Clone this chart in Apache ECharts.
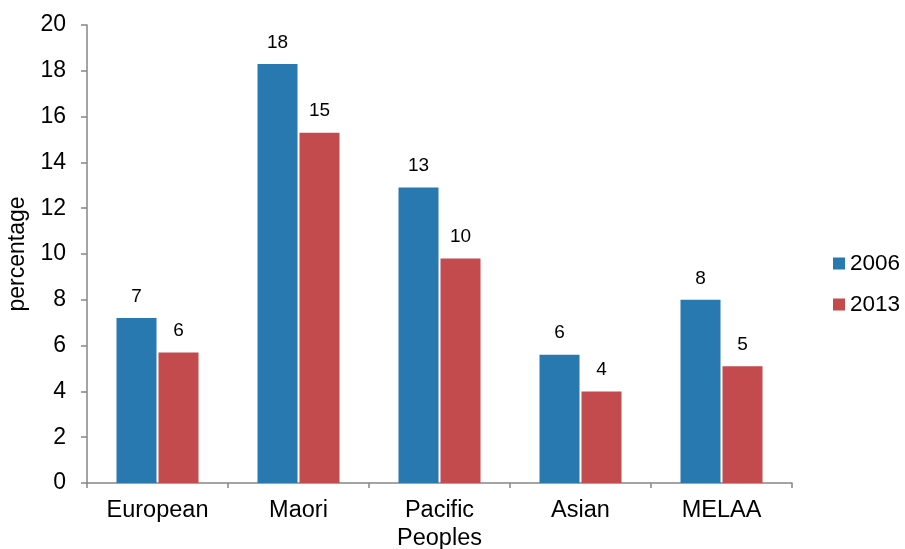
<!DOCTYPE html>
<html>
<head>
<meta charset="utf-8">
<script src="https://cdn.jsdelivr.net/npm/echarts@6/dist/echarts.min.js"></script>
<style>
  html, body { margin: 0; padding: 0; background: #fff; }
  #chart { width: 905px; height: 549px; }
</style>
</head>
<body>
<div id="chart"></div>
<script>
// Ethnic groups along the x axis
const categories = ['European', 'Maori', 'Pacific\nPeoples', 'Asian', 'MELAA'];
// Percentages per ethnic group
const values2006 = [7.2, 18.3, 12.9, 5.6, 8.0];
const values2013 = [5.7, 15.3, 9.8, 4.0, 5.1];
const seriesNames = ['2006', '2013'];

const FONT = '"Liberation Sans", Arial, sans-serif';
const AXIS_GREY = '#868686';

const chart = echarts.init(document.getElementById('chart'));

const barLabel = {
  show: true,
  position: 'top',
  distance: 12,
  color: '#000',
  fontFamily: FONT,
  fontSize: 19,
  formatter: p => Math.round(p.value)
};

chart.setOption({
  animation: false,
  backgroundColor: '#fff',
  textStyle: { fontFamily: FONT },
  grid: { left: 87, right: 113, top: 25, bottom: 66, containLabel: false, outerBoundsMode: 'none' },
  legend: {
    orient: 'vertical',
    left: 828,
    top: 247,
    itemWidth: 12,
    itemHeight: 12,
    itemGap: 18,
    icon: 'rect',
    textStyle: { fontFamily: FONT, fontSize: 22.5, color: '#000' },
    data: seriesNames
  },
  xAxis: {
    type: 'category',
    data: categories,
    axisLine: { lineStyle: { color: AXIS_GREY, width: 1.5 } },
    axisTick: { show: true, length: 5, lineStyle: { color: AXIS_GREY, width: 1.5 } },
    axisLabel: { fontFamily: FONT, fontSize: 23.5, color: '#000', margin: 14, lineHeight: 28 }
  },
  yAxis: {
    type: 'value',
    min: 0,
    max: 20,
    interval: 2,
    name: 'percentage',
    nameLocation: 'middle',
    nameGap: 56,
    nameRotate: 90,
    nameTextStyle: { fontFamily: FONT, fontSize: 23, color: '#000' },
    splitLine: { show: false },
    axisLine: { show: true, lineStyle: { color: AXIS_GREY, width: 1.5 } },
    axisTick: { show: true, length: 6, lineStyle: { color: AXIS_GREY, width: 1.5 } },
    axisLabel: { fontFamily: FONT, fontSize: 23, color: '#000', margin: 21 }
  },
  series: [
    {
      name: seriesNames[0],
      type: 'bar',
      data: values2006,
      barWidth: 40,
      barGap: '5%',
      itemStyle: { color: '#2979b1' },
      label: barLabel
    },
    {
      name: seriesNames[1],
      type: 'bar',
      data: values2013,
      barWidth: 40,
      barGap: '5%',
      itemStyle: { color: '#c34b4e' },
      label: barLabel
    }
  ]
});
</script>
</body>
</html>
